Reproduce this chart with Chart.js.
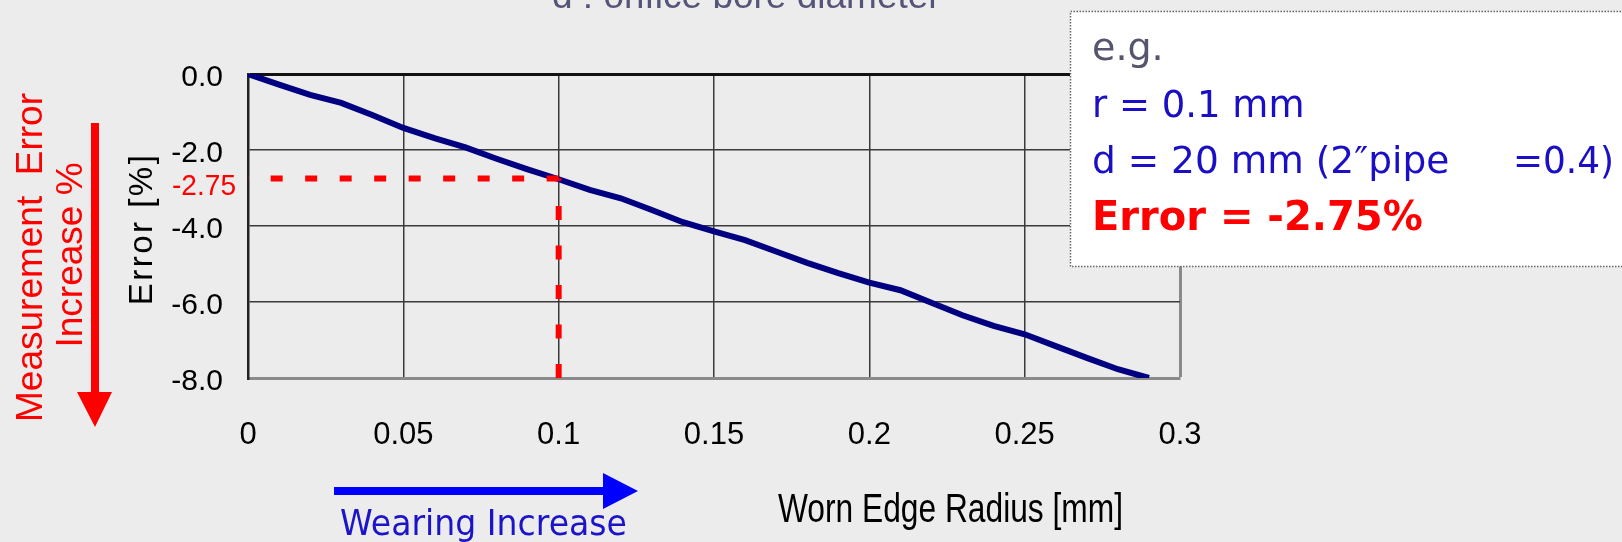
<!DOCTYPE html>
<html>
<head>
<meta charset="utf-8">
<script src="https://cdn.jsdelivr.net/npm/chart.js@4.4.1/dist/chart.umd.min.js"></script>
<style>
  body { margin: 0; background: #ececec; }
  canvas { display: block; }
</style>
</head>
<body>
<canvas id="wearchart" width="1622" height="542"></canvas>
<script>
let radius = [0, 0.01, 0.02, 0.03, 0.04, 0.05, 0.06, 0.07, 0.08, 0.09,
  0.10, 0.11, 0.12, 0.13, 0.14, 0.15, 0.16, 0.17, 0.18, 0.19,
  0.20, 0.21, 0.22, 0.23, 0.24, 0.25, 0.26, 0.27, 0.28, 0.29];
let errorPct = [0, -0.28, -0.55, -0.76, -1.08, -1.42, -1.69, -1.93, -2.23, -2.51,
  -2.77, -3.05, -3.27, -3.58, -3.90, -4.14, -4.37, -4.67, -4.97, -5.24,
  -5.49, -5.69, -6.02, -6.35, -6.63, -6.85, -7.16, -7.47, -7.77, -8.00];
let xTicks = [0, 0.05, 0.1, 0.15, 0.2, 0.25, 0.3];
let yTicks = [0, -2, -4, -6, -8];
let readRadius = 0.1;
let readError = -2.75;

const SANS = '"Liberation Sans", Arial, sans-serif';
const WIDE = '"DejaVu Sans", Verdana, sans-serif';

function rotText(c, text, x, y, font, color) {
  c.save();
  c.translate(x, y);
  c.rotate(-Math.PI / 2);
  c.font = font;
  c.fillStyle = color;
  c.textAlign = 'center';
  c.textBaseline = 'alphabetic';
  c.fillText(text, 0, 0);
  c.restore();
}

function polygon(c, pts, color) {
  c.beginPath();
  c.moveTo(pts[0][0], pts[0][1]);
  for (let i = 1; i < pts.length; i++) c.lineTo(pts[i][0], pts[i][1]);
  c.closePath();
  c.fillStyle = color;
  c.fill();
}

let overlay = {
  id: 'overlay',
  beforeDraw(chart) {
    let c = chart.ctx;
    c.save();
    c.fillStyle = '#ececec';
    c.fillRect(0, 0, chart.width, chart.height);
    c.restore();
  },
  afterDraw(chart) {
    let c = chart.ctx;
    let y = chart.scales.y;
    c.save();

    // heading, mostly cut off by the top edge
    c.fillStyle = '#55557a';
    c.font = '37px ' + SANS;
    c.textAlign = 'left';
    c.textBaseline = 'alphabetic';
    c.fillText('d : orifice bore diameter', 552, 8, 393);

    // read-off value next to the y ticks
    c.fillStyle = '#ff0000';
    c.font = '29px ' + SANS;
    c.textAlign = 'right';
    c.textBaseline = 'middle';
    c.fillText(readError.toFixed(2), 236, y.getPixelForValue(readError) + 8, 64);

    rotText(c, 'Measurement  Error', 41.7, 257.5, '37px ' + SANS, '#ff0000');
    rotText(c, 'Increase %', 82, 255, '37px ' + SANS, '#ff0000');
    c.letterSpacing = '2.5px';
    rotText(c, 'Error [%]', 152, 229, '33px ' + SANS, '#000');
    c.letterSpacing = '0px';

    polygon(c, [[91, 123], [99, 123], [99, 392], [112, 392], [95, 427], [77, 392], [91, 392]], '#ff0000');
    polygon(c, [[334, 487], [603, 487], [603, 473], [638, 491], [603, 509], [603, 495], [334, 495]], '#0000ff');

    c.textAlign = 'left';
    c.textBaseline = 'alphabetic';
    c.fillStyle = '#000';
    c.font = '40px ' + SANS;
    c.fillText('Worn Edge Radius [mm]', 778, 522, 345);
    c.fillStyle = '#1c14c8';
    c.font = '35px ' + WIDE;
    c.fillText('Wearing Increase', 340, 535, 287);

    // example box
    c.fillStyle = '#ffffff';
    c.fillRect(1070, 11.5, 600, 255);
    c.setLineDash([1.5, 1.5]);
    c.strokeStyle = '#666';
    c.lineWidth = 1.5;
    c.strokeRect(1070.5, 11.5, 600, 255);
    c.setLineDash([]);

    c.fillStyle = '#55556e';
    c.font = '38px ' + WIDE;
    c.fillText('e.g.', 1092, 60);
    c.fillStyle = '#1a0fc4';
    c.font = '37px ' + WIDE;
    c.fillText('r = ' + readRadius + ' mm', 1092, 116.7, 215);
    c.font = '37.5px ' + WIDE;
    c.fillText('d = 20 mm (2\u2033pipe', 1092, 173.3, 362);
    c.fillText('=0.4)', 1513, 173.3, 101);
    c.fillStyle = '#ff0000';
    c.font = 'bold 40px ' + WIDE;
    c.fillText('Error = ' + readError.toFixed(2) + '%', 1092, 230, 333);

    c.restore();
  },
};

let data = {
  datasets: [
    {
      label: 'Error',
      data: radius.map((r, i) => ({ x: r, y: errorPct[i] })),
      borderColor: '#000080',
      borderWidth: 6,
      pointRadius: 0,
      tension: 0,
      order: 2,
    },
    {
      label: 'read error',
      data: [{ x: readRadius, y: readError }, { x: 0, y: readError }],
      borderColor: '#ff0000',
      borderWidth: 6,
      borderDash: [12, 22.5],
      pointRadius: 0,
      order: 1,
    },
    {
      label: 'read radius',
      data: [{ x: readRadius, y: yTicks[yTicks.length - 1] }, { x: readRadius, y: readError }],
      borderColor: '#ff0000',
      borderWidth: 6,
      borderDash: [14, 25.5],
      pointRadius: 0,
      order: 1,
    },
  ],
};

let options = {
  responsive: false,
  animation: false,
  layout: { padding: { top: 74, right: 442, bottom: 0, left: 0 } },
  plugins: { legend: { display: false }, tooltip: { enabled: false } },
  scales: {
    x: {
      type: 'linear',
      min: 0,
      max: 0.3,
      afterFit: (s) => { s.height = 164; },
      afterBuildTicks: (s) => { s.ticks = xTicks.map((v) => ({ value: v })); },
      ticks: {
        callback: (v) => String(+v.toFixed(2)),
        font: { family: SANS, size: 31 },
        color: '#000',
        padding: 39,
        maxRotation: 0,
        autoSkip: false,
      },
      grid: {
        color: (ctx) => (ctx.tick && ctx.tick.value === 0.3 ? '#8a8a8a' : '#3a3a3a'),
        lineWidth: (ctx) => (ctx.tick && ctx.tick.value === 0.3 ? 3 : 1.5),
        drawTicks: false,
      },
      border: { color: '#8a8a8a', width: 3 },
    },
    y: {
      type: 'linear',
      min: -8,
      max: 0,
      afterFit: (s) => { s.width = 248; },
      afterBuildTicks: (s) => { s.ticks = yTicks.map((v) => ({ value: v })); },
      ticks: {
        callback: (v) => v.toFixed(1),
        font: { family: SANS, size: 30 },
        color: '#000',
        padding: 25,
        labelOffset: 4,
      },
      grid: {
        color: (ctx) => (ctx.tick && ctx.tick.value === 0 ? '#111' : '#3a3a3a'),
        lineWidth: (ctx) => (ctx.tick && ctx.tick.value === 0 ? 3 : 1.5),
        drawTicks: false,
      },
      border: { color: '#222', width: 2.5 },
    },
  },
};

let ctx = document.getElementById('wearchart');
var wearChart = new Chart(ctx, {
  type: 'line',
  data: data,
  options: options,
  plugins: [overlay],
});
</script>
</body>
</html>
